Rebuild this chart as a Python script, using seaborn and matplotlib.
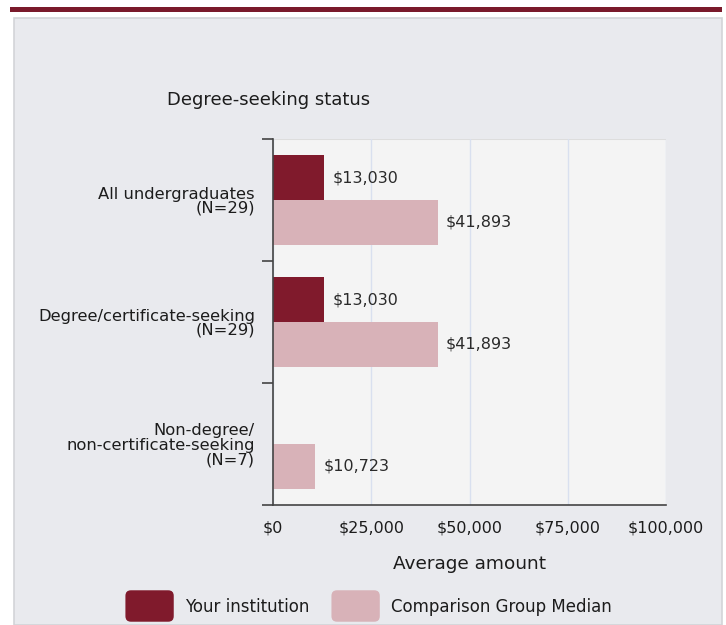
import matplotlib
matplotlib.use("Agg")
import matplotlib.pyplot as plt
import matplotlib.patches as mpatches
from matplotlib.legend_handler import HandlerPatch
from matplotlib.ticker import FuncFormatter, FixedLocator
import seaborn as sns
import pandas as pd
import numpy as np

categories = ["All undergraduates\n(N=29)",
              "Degree/certificate-seeking\n(N=29)",
              "Non-degree/\nnon-certificate-seeking\n(N=7)"]
groups = ["Your institution", "Comparison Group Median"]
your_values = [13030, 13030, None]
comparison_values = [41893, 41893, 10723]
x_ticks = [0, 25000, 50000, 75000, 100000]
title = "Degree-seeking status"
x_label = "Average amount"

DARK = "#801a2c"
LIGHT = "#d8b2b8"
PANEL = "#e9eaee"
PLOT_BG = "#f4f4f4"
TXT = "#1c1c1c"

rows = []
for c, v in zip(categories, your_values):
    if v is not None:
        rows.append({"category": c, "group": groups[0], "value": v})
for c, v in zip(categories, comparison_values):
    if v is not None:
        rows.append({"category": c, "group": groups[1], "value": v})
df = pd.DataFrame(rows)

sns.set_theme(style="white")
plt.rcParams["font.family"] = ["DejaVu Sans"]
FS = 11.5

fig = plt.figure(figsize=(7.26, 6.25), dpi=100)
fig.patch.set_facecolor("white")

# panel background
fig.patches.append(mpatches.Rectangle((14/726, 0), (722-14)/726, (625-18)/625,
                                      transform=fig.transFigure, facecolor=PANEL,
                                      edgecolor="#d3d4d8", linewidth=1.2, zorder=-2))
# top band
fig.patches.append(mpatches.Rectangle((10/726, 1-12/625), (722-10)/726, 5/625,
                                      transform=fig.transFigure, facecolor="#7a1a2b",
                                      edgecolor="none", zorder=-2))

ax = fig.add_axes([273/726, 1-505/625, (666-273)/726, (505-139)/625])
ax.set_zorder(2)
ax.set_facecolor(PLOT_BG)

sns.barplot(data=df, y="category", x="value", hue="group", order=categories,
            hue_order=groups, palette=[DARK, LIGHT], orient="h", dodge=True,
            width=0.73, errorbar=None, ax=ax, legend=False, saturation=1,
            linewidth=0)

for cont in ax.containers:
    labels = []
    for r in cont:
        w = r.get_width()
        labels.append("" if (w is None or np.isnan(w)) else f"${w:,.0f}")
    ax.bar_label(cont, labels=labels, padding=6, fontsize=FS, color="#2a2a2a")

ax.set_xlim(x_ticks[0], x_ticks[-1])
ax.set_ylim(len(categories) - 0.5, -0.5)
ax.xaxis.set_major_locator(FixedLocator(x_ticks))
ax.xaxis.set_major_formatter(FuncFormatter(lambda v, p: f"${v:,.0f}"))
ax.grid(axis="x", color="#d9e0ef", linewidth=1)
ax.set_axisbelow(True)

# y ticks at category boundaries, labels at centers
ax.set_yticks(np.arange(len(categories) + 1) - 0.5)
ax.set_yticklabels([""] * (len(categories) + 1))
ax.set_yticks(np.arange(len(categories)), minor=True)
ax.set_yticklabels(categories, minor=True, fontsize=11.8, color=TXT,
                   linespacing=0.95, ha="right")
ax.tick_params(axis="y", which="major", length=8, width=1.2, color="#444444", left=True)
ax.tick_params(axis="y", which="minor", length=0, pad=13)
ax.tick_params(axis="x", length=0, pad=11, labelsize=FS, labelcolor=TXT)
ax.set_xlabel(x_label, fontsize=13.3, color=TXT, labelpad=14)
ax.set_ylabel("")

for s in ["top", "right"]:
    ax.spines[s].set_visible(False)
ax.spines["left"].set_color("#444444")
ax.spines["left"].set_linewidth(1.2)
ax.spines["bottom"].set_color("#444444")
ax.spines["bottom"].set_linewidth(1.2)
ax.axhline(-0.5, color="#dddddd", linewidth=1.5, zorder=0.5)

fig.text(167/726, 1-100/625, title, fontsize=13, color=TXT, va="center", ha="left")


class RoundHandler(HandlerPatch):
    def create_artists(self, legend, orig_handle, xdescent, ydescent, width, height, fontsize, trans):
        p = mpatches.FancyBboxPatch((-xdescent + 2, -ydescent - 2), width - 4, height + 4,
                                    boxstyle="round,pad=2,rounding_size=4",
                                    facecolor=orig_handle.get_facecolor(), edgecolor="none",
                                    transform=trans)
        return [p]


handles = [mpatches.Patch(facecolor=DARK), mpatches.Patch(facecolor=LIGHT)]
fig.legend(handles, groups, loc="center", bbox_to_anchor=(0.508, 1-606/625), ncol=2,
           frameon=False, fontsize=12, handlelength=2.9, handleheight=1.5,
           handletextpad=0.7, columnspacing=1.3, handler_map={mpatches.Patch: RoundHandler()},
           labelcolor=TXT)

fig.savefig("out.png", dpi=100, facecolor="white")
